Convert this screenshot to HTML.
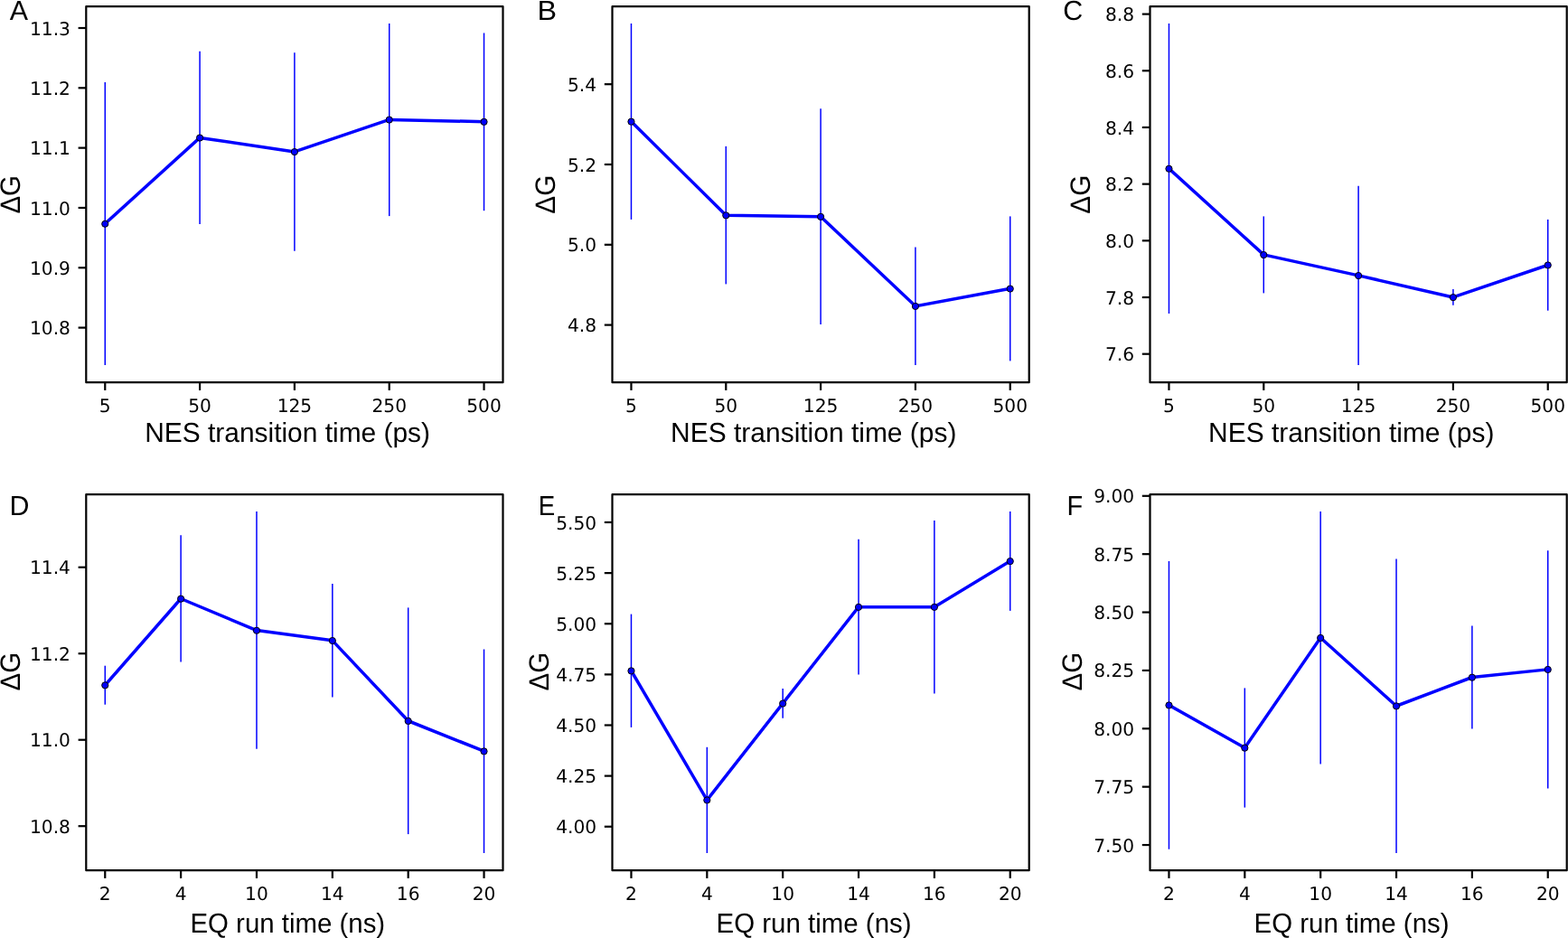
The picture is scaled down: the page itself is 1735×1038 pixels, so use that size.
<!DOCTYPE html>
<html><head><meta charset="utf-8"><title>Figure</title>
<style>
html,body{margin:0;padding:0;background:#fff;overflow:hidden;}
svg{display:block;text-rendering:geometricPrecision;}
.tk{font-family:"DejaVu Sans",sans-serif;font-size:20.2px;fill:#000;}
.lb{font-family:"Liberation Sans",Arial,sans-serif;font-size:30.4px;fill:#000;}
.dg{font-family:"Liberation Sans",Arial,sans-serif;font-size:31px;fill:#000;}
.lt{font-family:"Liberation Sans",Arial,sans-serif;font-size:30.4px;fill:#000;}
</style></head><body>
<svg width="1735" height="1038" viewBox="0 0 1735 1038">
<rect x="0" y="0" width="1735" height="1038" fill="#fff"/>
<g id="pA">
<line x1="116.26" y1="91.1" x2="116.26" y2="404" stroke="#0000ff" stroke-width="1.5"/>
<line x1="221.08" y1="56.8" x2="221.08" y2="248" stroke="#0000ff" stroke-width="1.5"/>
<line x1="325.9" y1="58.2" x2="325.9" y2="277.7" stroke="#0000ff" stroke-width="1.5"/>
<line x1="430.72" y1="26" x2="430.72" y2="239.1" stroke="#0000ff" stroke-width="1.5"/>
<line x1="535.54" y1="36.5" x2="535.54" y2="233.2" stroke="#0000ff" stroke-width="1.5"/>
<polyline points="116.26,247.6 221.08,152.4 325.9,167.9 430.72,132.4 535.54,134.7" fill="none" stroke="#0000ff" stroke-width="3.5" stroke-linejoin="round" stroke-linecap="square"/>
<circle cx="116.26" cy="247.75" r="3.6" fill="#0000ff" stroke="#000" stroke-width="1"/>
<circle cx="221.08" cy="152.55" r="3.6" fill="#0000ff" stroke="#000" stroke-width="1"/>
<circle cx="325.9" cy="168.05" r="3.6" fill="#0000ff" stroke="#000" stroke-width="1"/>
<circle cx="430.72" cy="132.55" r="3.6" fill="#0000ff" stroke="#000" stroke-width="1"/>
<circle cx="535.54" cy="134.85" r="3.6" fill="#0000ff" stroke="#000" stroke-width="1"/>
<rect x="95.3" y="7.2" width="461.2" height="416" fill="none" stroke="#000" stroke-width="2.2" stroke-linejoin="round"/>
<line x1="116.26" y1="423.2" x2="116.26" y2="431.9" stroke="#000" stroke-width="2.2"/>
<text class="tk" x="116.26" y="456" text-anchor="middle">5</text>
<line x1="221.08" y1="423.2" x2="221.08" y2="431.9" stroke="#000" stroke-width="2.2"/>
<text class="tk" x="221.08" y="456" text-anchor="middle">50</text>
<line x1="325.9" y1="423.2" x2="325.9" y2="431.9" stroke="#000" stroke-width="2.2"/>
<text class="tk" x="325.9" y="456" text-anchor="middle">125</text>
<line x1="430.72" y1="423.2" x2="430.72" y2="431.9" stroke="#000" stroke-width="2.2"/>
<text class="tk" x="430.72" y="456" text-anchor="middle">250</text>
<line x1="535.54" y1="423.2" x2="535.54" y2="431.9" stroke="#000" stroke-width="2.2"/>
<text class="tk" x="535.54" y="456" text-anchor="middle">500</text>
<line x1="86.6" y1="362.6" x2="95.3" y2="362.6" stroke="#000" stroke-width="2.2"/>
<text class="tk" x="77.9" y="370.15" text-anchor="end">10.8</text>
<line x1="86.6" y1="296.28" x2="95.3" y2="296.28" stroke="#000" stroke-width="2.2"/>
<text class="tk" x="77.9" y="303.83" text-anchor="end">10.9</text>
<line x1="86.6" y1="229.96" x2="95.3" y2="229.96" stroke="#000" stroke-width="2.2"/>
<text class="tk" x="77.9" y="237.51" text-anchor="end">11.0</text>
<line x1="86.6" y1="163.64" x2="95.3" y2="163.64" stroke="#000" stroke-width="2.2"/>
<text class="tk" x="77.9" y="171.19" text-anchor="end">11.1</text>
<line x1="86.6" y1="97.32" x2="95.3" y2="97.32" stroke="#000" stroke-width="2.2"/>
<text class="tk" x="77.9" y="104.87" text-anchor="end">11.2</text>
<line x1="86.6" y1="31" x2="95.3" y2="31" stroke="#000" stroke-width="2.2"/>
<text class="tk" x="77.9" y="38.55" text-anchor="end">11.3</text>
<text class="lb" transform="translate(160.23 488.9) scale(0.9841 1)">NES transition time (ps)</text>
<text class="dg" transform="translate(21.95 236.56) rotate(-90) scale(0.9496 1)">&#916;G</text>
<text class="lt" transform="translate(10.64 21.9) scale(1.000 1)">A</text>
</g>
<g id="pB">
<line x1="698.46" y1="26" x2="698.46" y2="242.9" stroke="#0000ff" stroke-width="1.5"/>
<line x1="803.28" y1="161.9" x2="803.28" y2="314.4" stroke="#0000ff" stroke-width="1.5"/>
<line x1="908.1" y1="120.3" x2="908.1" y2="358.9" stroke="#0000ff" stroke-width="1.5"/>
<line x1="1012.92" y1="273.4" x2="1012.92" y2="404" stroke="#0000ff" stroke-width="1.5"/>
<line x1="1117.74" y1="239.4" x2="1117.74" y2="399.4" stroke="#0000ff" stroke-width="1.5"/>
<polyline points="698.46,134.5 803.28,238.2 908.1,239.7 1012.92,338.8 1117.74,319.4" fill="none" stroke="#0000ff" stroke-width="3.5" stroke-linejoin="round" stroke-linecap="square"/>
<circle cx="698.46" cy="134.65" r="3.6" fill="#0000ff" stroke="#000" stroke-width="1"/>
<circle cx="803.28" cy="238.35" r="3.6" fill="#0000ff" stroke="#000" stroke-width="1"/>
<circle cx="908.1" cy="239.85" r="3.6" fill="#0000ff" stroke="#000" stroke-width="1"/>
<circle cx="1012.92" cy="338.95" r="3.6" fill="#0000ff" stroke="#000" stroke-width="1"/>
<circle cx="1117.74" cy="319.55" r="3.6" fill="#0000ff" stroke="#000" stroke-width="1"/>
<rect x="677.5" y="7.2" width="461.2" height="416" fill="none" stroke="#000" stroke-width="2.2" stroke-linejoin="round"/>
<line x1="698.46" y1="423.2" x2="698.46" y2="431.9" stroke="#000" stroke-width="2.2"/>
<text class="tk" x="698.46" y="456" text-anchor="middle">5</text>
<line x1="803.28" y1="423.2" x2="803.28" y2="431.9" stroke="#000" stroke-width="2.2"/>
<text class="tk" x="803.28" y="456" text-anchor="middle">50</text>
<line x1="908.1" y1="423.2" x2="908.1" y2="431.9" stroke="#000" stroke-width="2.2"/>
<text class="tk" x="908.1" y="456" text-anchor="middle">125</text>
<line x1="1012.92" y1="423.2" x2="1012.92" y2="431.9" stroke="#000" stroke-width="2.2"/>
<text class="tk" x="1012.92" y="456" text-anchor="middle">250</text>
<line x1="1117.74" y1="423.2" x2="1117.74" y2="431.9" stroke="#000" stroke-width="2.2"/>
<text class="tk" x="1117.74" y="456" text-anchor="middle">500</text>
<line x1="668.8" y1="359.6" x2="677.5" y2="359.6" stroke="#000" stroke-width="2.2"/>
<text class="tk" x="660.1" y="367.15" text-anchor="end">4.8</text>
<line x1="668.8" y1="270.8" x2="677.5" y2="270.8" stroke="#000" stroke-width="2.2"/>
<text class="tk" x="660.1" y="278.35" text-anchor="end">5.0</text>
<line x1="668.8" y1="182" x2="677.5" y2="182" stroke="#000" stroke-width="2.2"/>
<text class="tk" x="660.1" y="189.55" text-anchor="end">5.2</text>
<line x1="668.8" y1="93.2" x2="677.5" y2="93.2" stroke="#000" stroke-width="2.2"/>
<text class="tk" x="660.1" y="100.75" text-anchor="end">5.4</text>
<text class="lb" transform="translate(742.12 488.9) scale(0.9857 1)">NES transition time (ps)</text>
<text class="dg" transform="translate(614.35 236.67) rotate(-90) scale(0.9593 1)">&#916;G</text>
<text class="lt" transform="translate(594.45 21.9) scale(1.063 1)">B</text>
</g>
<g id="pC">
<line x1="1293.46" y1="26" x2="1293.46" y2="347.1" stroke="#0000ff" stroke-width="1.5"/>
<line x1="1398.28" y1="239.4" x2="1398.28" y2="324.4" stroke="#0000ff" stroke-width="1.5"/>
<line x1="1503.1" y1="205.8" x2="1503.1" y2="404" stroke="#0000ff" stroke-width="1.5"/>
<line x1="1607.92" y1="320.1" x2="1607.92" y2="337.8" stroke="#0000ff" stroke-width="1.5"/>
<line x1="1712.74" y1="242.9" x2="1712.74" y2="343.7" stroke="#0000ff" stroke-width="1.5"/>
<polyline points="1293.46,186.6 1398.28,281.9 1503.1,304.9 1607.92,328.95 1712.74,293.3" fill="none" stroke="#0000ff" stroke-width="3.5" stroke-linejoin="round" stroke-linecap="square"/>
<circle cx="1293.46" cy="186.75" r="3.6" fill="#0000ff" stroke="#000" stroke-width="1"/>
<circle cx="1398.28" cy="282.05" r="3.6" fill="#0000ff" stroke="#000" stroke-width="1"/>
<circle cx="1503.1" cy="305.05" r="3.6" fill="#0000ff" stroke="#000" stroke-width="1"/>
<circle cx="1607.92" cy="329.1" r="3.6" fill="#0000ff" stroke="#000" stroke-width="1"/>
<circle cx="1712.74" cy="293.45" r="3.6" fill="#0000ff" stroke="#000" stroke-width="1"/>
<rect x="1272.5" y="7.2" width="461.2" height="416" fill="none" stroke="#000" stroke-width="2.2" stroke-linejoin="round"/>
<line x1="1293.46" y1="423.2" x2="1293.46" y2="431.9" stroke="#000" stroke-width="2.2"/>
<text class="tk" x="1293.46" y="456" text-anchor="middle">5</text>
<line x1="1398.28" y1="423.2" x2="1398.28" y2="431.9" stroke="#000" stroke-width="2.2"/>
<text class="tk" x="1398.28" y="456" text-anchor="middle">50</text>
<line x1="1503.1" y1="423.2" x2="1503.1" y2="431.9" stroke="#000" stroke-width="2.2"/>
<text class="tk" x="1503.1" y="456" text-anchor="middle">125</text>
<line x1="1607.92" y1="423.2" x2="1607.92" y2="431.9" stroke="#000" stroke-width="2.2"/>
<text class="tk" x="1607.92" y="456" text-anchor="middle">250</text>
<line x1="1712.74" y1="423.2" x2="1712.74" y2="431.9" stroke="#000" stroke-width="2.2"/>
<text class="tk" x="1712.74" y="456" text-anchor="middle">500</text>
<line x1="1263.8" y1="391.7" x2="1272.5" y2="391.7" stroke="#000" stroke-width="2.2"/>
<text class="tk" x="1255.1" y="399.25" text-anchor="end">7.6</text>
<line x1="1263.8" y1="329.02" x2="1272.5" y2="329.02" stroke="#000" stroke-width="2.2"/>
<text class="tk" x="1255.1" y="336.57" text-anchor="end">7.8</text>
<line x1="1263.8" y1="266.33" x2="1272.5" y2="266.33" stroke="#000" stroke-width="2.2"/>
<text class="tk" x="1255.1" y="273.88" text-anchor="end">8.0</text>
<line x1="1263.8" y1="203.65" x2="1272.5" y2="203.65" stroke="#000" stroke-width="2.2"/>
<text class="tk" x="1255.1" y="211.2" text-anchor="end">8.2</text>
<line x1="1263.8" y1="140.97" x2="1272.5" y2="140.97" stroke="#000" stroke-width="2.2"/>
<text class="tk" x="1255.1" y="148.52" text-anchor="end">8.4</text>
<line x1="1263.8" y1="78.28" x2="1272.5" y2="78.28" stroke="#000" stroke-width="2.2"/>
<text class="tk" x="1255.1" y="85.83" text-anchor="end">8.6</text>
<line x1="1263.8" y1="15.6" x2="1272.5" y2="15.6" stroke="#000" stroke-width="2.2"/>
<text class="tk" x="1255.1" y="23.15" text-anchor="end">8.8</text>
<text class="lb" transform="translate(1337.12 488.9) scale(0.9857 1)">NES transition time (ps)</text>
<text class="dg" transform="translate(1206.45 236.67) rotate(-90) scale(0.9593 1)">&#916;G</text>
<text class="lt" transform="translate(1176.16 21.9) scale(1.000 1)">C</text>
</g>
<g id="pD">
<line x1="116.26" y1="736.7" x2="116.26" y2="779.7" stroke="#0000ff" stroke-width="1.5"/>
<line x1="200.12" y1="592.3" x2="200.12" y2="732.4" stroke="#0000ff" stroke-width="1.5"/>
<line x1="283.97" y1="566" x2="283.97" y2="828.7" stroke="#0000ff" stroke-width="1.5"/>
<line x1="367.83" y1="646.1" x2="367.83" y2="771.6" stroke="#0000ff" stroke-width="1.5"/>
<line x1="451.68" y1="672.4" x2="451.68" y2="923.1" stroke="#0000ff" stroke-width="1.5"/>
<line x1="535.54" y1="718.5" x2="535.54" y2="944" stroke="#0000ff" stroke-width="1.5"/>
<polyline points="116.26,758.2 200.12,662.5 283.97,697.6 367.83,708.85 451.68,797.75 535.54,831.25" fill="none" stroke="#0000ff" stroke-width="3.5" stroke-linejoin="round" stroke-linecap="square"/>
<circle cx="116.26" cy="758.35" r="3.6" fill="#0000ff" stroke="#000" stroke-width="1"/>
<circle cx="200.12" cy="662.65" r="3.6" fill="#0000ff" stroke="#000" stroke-width="1"/>
<circle cx="283.97" cy="697.75" r="3.6" fill="#0000ff" stroke="#000" stroke-width="1"/>
<circle cx="367.83" cy="709" r="3.6" fill="#0000ff" stroke="#000" stroke-width="1"/>
<circle cx="451.68" cy="797.9" r="3.6" fill="#0000ff" stroke="#000" stroke-width="1"/>
<circle cx="535.54" cy="831.4" r="3.6" fill="#0000ff" stroke="#000" stroke-width="1"/>
<rect x="95.3" y="547.2" width="461.2" height="416" fill="none" stroke="#000" stroke-width="2.2" stroke-linejoin="round"/>
<line x1="116.26" y1="963.2" x2="116.26" y2="971.9" stroke="#000" stroke-width="2.2"/>
<text class="tk" x="116.26" y="996" text-anchor="middle">2</text>
<line x1="200.12" y1="963.2" x2="200.12" y2="971.9" stroke="#000" stroke-width="2.2"/>
<text class="tk" x="200.12" y="996" text-anchor="middle">4</text>
<line x1="283.97" y1="963.2" x2="283.97" y2="971.9" stroke="#000" stroke-width="2.2"/>
<text class="tk" x="283.97" y="996" text-anchor="middle">10</text>
<line x1="367.83" y1="963.2" x2="367.83" y2="971.9" stroke="#000" stroke-width="2.2"/>
<text class="tk" x="367.83" y="996" text-anchor="middle">14</text>
<line x1="451.68" y1="963.2" x2="451.68" y2="971.9" stroke="#000" stroke-width="2.2"/>
<text class="tk" x="451.68" y="996" text-anchor="middle">16</text>
<line x1="535.54" y1="963.2" x2="535.54" y2="971.9" stroke="#000" stroke-width="2.2"/>
<text class="tk" x="535.54" y="996" text-anchor="middle">20</text>
<line x1="86.6" y1="914.2" x2="95.3" y2="914.2" stroke="#000" stroke-width="2.2"/>
<text class="tk" x="77.9" y="921.75" text-anchor="end">10.8</text>
<line x1="86.6" y1="818.72" x2="95.3" y2="818.72" stroke="#000" stroke-width="2.2"/>
<text class="tk" x="77.9" y="826.27" text-anchor="end">11.0</text>
<line x1="86.6" y1="723.23" x2="95.3" y2="723.23" stroke="#000" stroke-width="2.2"/>
<text class="tk" x="77.9" y="730.78" text-anchor="end">11.2</text>
<line x1="86.6" y1="627.75" x2="95.3" y2="627.75" stroke="#000" stroke-width="2.2"/>
<text class="tk" x="77.9" y="635.3" text-anchor="end">11.4</text>
<text class="lb" transform="translate(210.43 1031.8) scale(0.9677 1)">EQ run time (ns)</text>
<text class="dg" transform="translate(21.95 764.46) rotate(-90) scale(0.9520 1)">&#916;G</text>
<text class="lt" transform="translate(10.41 569.85) scale(1.000 1)">D</text>
</g>
<g id="pE">
<line x1="698.46" y1="679.6" x2="698.46" y2="804.9" stroke="#0000ff" stroke-width="1.5"/>
<line x1="782.32" y1="826.8" x2="782.32" y2="944" stroke="#0000ff" stroke-width="1.5"/>
<line x1="866.17" y1="762" x2="866.17" y2="794.7" stroke="#0000ff" stroke-width="1.5"/>
<line x1="950.03" y1="596.8" x2="950.03" y2="746.6" stroke="#0000ff" stroke-width="1.5"/>
<line x1="1033.88" y1="575.9" x2="1033.88" y2="767.6" stroke="#0000ff" stroke-width="1.5"/>
<line x1="1117.74" y1="566" x2="1117.74" y2="675.9" stroke="#0000ff" stroke-width="1.5"/>
<polyline points="698.46,742.25 782.32,885.3 866.17,778.4 950.03,671.7 1033.88,671.7 1117.74,620.95" fill="none" stroke="#0000ff" stroke-width="3.5" stroke-linejoin="round" stroke-linecap="square"/>
<circle cx="698.46" cy="742.4" r="3.6" fill="#0000ff" stroke="#000" stroke-width="1"/>
<circle cx="782.32" cy="885.45" r="3.6" fill="#0000ff" stroke="#000" stroke-width="1"/>
<circle cx="866.17" cy="778.55" r="3.6" fill="#0000ff" stroke="#000" stroke-width="1"/>
<circle cx="950.03" cy="671.85" r="3.6" fill="#0000ff" stroke="#000" stroke-width="1"/>
<circle cx="1033.88" cy="671.85" r="3.6" fill="#0000ff" stroke="#000" stroke-width="1"/>
<circle cx="1117.74" cy="621.1" r="3.6" fill="#0000ff" stroke="#000" stroke-width="1"/>
<rect x="677.5" y="547.2" width="461.2" height="416" fill="none" stroke="#000" stroke-width="2.2" stroke-linejoin="round"/>
<line x1="698.46" y1="963.2" x2="698.46" y2="971.9" stroke="#000" stroke-width="2.2"/>
<text class="tk" x="698.46" y="996" text-anchor="middle">2</text>
<line x1="782.32" y1="963.2" x2="782.32" y2="971.9" stroke="#000" stroke-width="2.2"/>
<text class="tk" x="782.32" y="996" text-anchor="middle">4</text>
<line x1="866.17" y1="963.2" x2="866.17" y2="971.9" stroke="#000" stroke-width="2.2"/>
<text class="tk" x="866.17" y="996" text-anchor="middle">10</text>
<line x1="950.03" y1="963.2" x2="950.03" y2="971.9" stroke="#000" stroke-width="2.2"/>
<text class="tk" x="950.03" y="996" text-anchor="middle">14</text>
<line x1="1033.88" y1="963.2" x2="1033.88" y2="971.9" stroke="#000" stroke-width="2.2"/>
<text class="tk" x="1033.88" y="996" text-anchor="middle">16</text>
<line x1="1117.74" y1="963.2" x2="1117.74" y2="971.9" stroke="#000" stroke-width="2.2"/>
<text class="tk" x="1117.74" y="996" text-anchor="middle">20</text>
<line x1="668.8" y1="914.75" x2="677.5" y2="914.75" stroke="#000" stroke-width="2.2"/>
<text class="tk" x="660.1" y="922.3" text-anchor="end">4.00</text>
<line x1="668.8" y1="858.62" x2="677.5" y2="858.62" stroke="#000" stroke-width="2.2"/>
<text class="tk" x="660.1" y="866.17" text-anchor="end">4.25</text>
<line x1="668.8" y1="802.5" x2="677.5" y2="802.5" stroke="#000" stroke-width="2.2"/>
<text class="tk" x="660.1" y="810.05" text-anchor="end">4.50</text>
<line x1="668.8" y1="746.38" x2="677.5" y2="746.38" stroke="#000" stroke-width="2.2"/>
<text class="tk" x="660.1" y="753.92" text-anchor="end">4.75</text>
<line x1="668.8" y1="690.25" x2="677.5" y2="690.25" stroke="#000" stroke-width="2.2"/>
<text class="tk" x="660.1" y="697.8" text-anchor="end">5.00</text>
<line x1="668.8" y1="634.12" x2="677.5" y2="634.12" stroke="#000" stroke-width="2.2"/>
<text class="tk" x="660.1" y="641.67" text-anchor="end">5.25</text>
<line x1="668.8" y1="578" x2="677.5" y2="578" stroke="#000" stroke-width="2.2"/>
<text class="tk" x="660.1" y="585.55" text-anchor="end">5.50</text>
<text class="lb" transform="translate(792.53 1031.8) scale(0.9691 1)">EQ run time (ns)</text>
<text class="dg" transform="translate(607.05 764.46) rotate(-90) scale(0.9520 1)">&#916;G</text>
<text class="lt" transform="translate(595.63 569.85) scale(0.910 1)">E</text>
</g>
<g id="pF">
<line x1="1293.46" y1="620.9" x2="1293.46" y2="939.7" stroke="#0000ff" stroke-width="1.5"/>
<line x1="1377.32" y1="761.4" x2="1377.32" y2="893.6" stroke="#0000ff" stroke-width="1.5"/>
<line x1="1461.17" y1="566" x2="1461.17" y2="845.6" stroke="#0000ff" stroke-width="1.5"/>
<line x1="1545.03" y1="618.5" x2="1545.03" y2="944" stroke="#0000ff" stroke-width="1.5"/>
<line x1="1628.88" y1="692.5" x2="1628.88" y2="806.5" stroke="#0000ff" stroke-width="1.5"/>
<line x1="1712.74" y1="609.2" x2="1712.74" y2="872.4" stroke="#0000ff" stroke-width="1.5"/>
<polyline points="1293.46,780.3 1377.32,827.5 1461.17,705.8 1545.03,781.25 1628.88,749.5 1712.74,740.8" fill="none" stroke="#0000ff" stroke-width="3.5" stroke-linejoin="round" stroke-linecap="square"/>
<circle cx="1293.46" cy="780.45" r="3.6" fill="#0000ff" stroke="#000" stroke-width="1"/>
<circle cx="1377.32" cy="827.65" r="3.6" fill="#0000ff" stroke="#000" stroke-width="1"/>
<circle cx="1461.17" cy="705.95" r="3.6" fill="#0000ff" stroke="#000" stroke-width="1"/>
<circle cx="1545.03" cy="781.4" r="3.6" fill="#0000ff" stroke="#000" stroke-width="1"/>
<circle cx="1628.88" cy="749.65" r="3.6" fill="#0000ff" stroke="#000" stroke-width="1"/>
<circle cx="1712.74" cy="740.95" r="3.6" fill="#0000ff" stroke="#000" stroke-width="1"/>
<rect x="1272.5" y="547.2" width="461.2" height="416" fill="none" stroke="#000" stroke-width="2.2" stroke-linejoin="round"/>
<line x1="1293.46" y1="963.2" x2="1293.46" y2="971.9" stroke="#000" stroke-width="2.2"/>
<text class="tk" x="1293.46" y="996" text-anchor="middle">2</text>
<line x1="1377.32" y1="963.2" x2="1377.32" y2="971.9" stroke="#000" stroke-width="2.2"/>
<text class="tk" x="1377.32" y="996" text-anchor="middle">4</text>
<line x1="1461.17" y1="963.2" x2="1461.17" y2="971.9" stroke="#000" stroke-width="2.2"/>
<text class="tk" x="1461.17" y="996" text-anchor="middle">10</text>
<line x1="1545.03" y1="963.2" x2="1545.03" y2="971.9" stroke="#000" stroke-width="2.2"/>
<text class="tk" x="1545.03" y="996" text-anchor="middle">14</text>
<line x1="1628.88" y1="963.2" x2="1628.88" y2="971.9" stroke="#000" stroke-width="2.2"/>
<text class="tk" x="1628.88" y="996" text-anchor="middle">16</text>
<line x1="1712.74" y1="963.2" x2="1712.74" y2="971.9" stroke="#000" stroke-width="2.2"/>
<text class="tk" x="1712.74" y="996" text-anchor="middle">20</text>
<line x1="1263.8" y1="935.05" x2="1272.5" y2="935.05" stroke="#000" stroke-width="2.2"/>
<text class="tk" x="1255.1" y="942.6" text-anchor="end">7.50</text>
<line x1="1263.8" y1="870.67" x2="1272.5" y2="870.67" stroke="#000" stroke-width="2.2"/>
<text class="tk" x="1255.1" y="878.22" text-anchor="end">7.75</text>
<line x1="1263.8" y1="806.3" x2="1272.5" y2="806.3" stroke="#000" stroke-width="2.2"/>
<text class="tk" x="1255.1" y="813.85" text-anchor="end">8.00</text>
<line x1="1263.8" y1="741.92" x2="1272.5" y2="741.92" stroke="#000" stroke-width="2.2"/>
<text class="tk" x="1255.1" y="749.47" text-anchor="end">8.25</text>
<line x1="1263.8" y1="677.55" x2="1272.5" y2="677.55" stroke="#000" stroke-width="2.2"/>
<text class="tk" x="1255.1" y="685.1" text-anchor="end">8.50</text>
<line x1="1263.8" y1="613.17" x2="1272.5" y2="613.17" stroke="#000" stroke-width="2.2"/>
<text class="tk" x="1255.1" y="620.72" text-anchor="end">8.75</text>
<line x1="1263.8" y1="548.8" x2="1272.5" y2="548.8" stroke="#000" stroke-width="2.2"/>
<text class="tk" x="1255.1" y="556.35" text-anchor="end">9.00</text>
<text class="lb" transform="translate(1387.53 1031.8) scale(0.9691 1)">EQ run time (ns)</text>
<text class="dg" transform="translate(1196.65 764.46) rotate(-90) scale(0.9520 1)">&#916;G</text>
<text class="lt" transform="translate(1180.53 569.85) scale(0.950 1)">F</text>
</g>
</svg>
</body></html>
